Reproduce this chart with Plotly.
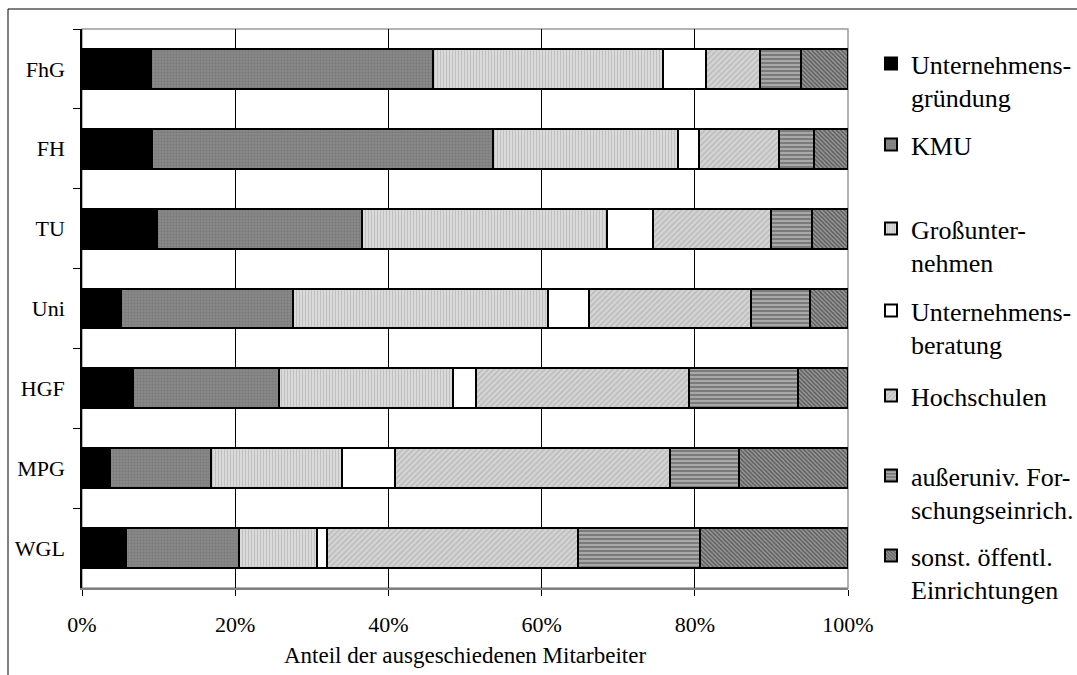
import plotly.graph_objects as go

# ---- data ----
categories = ["FhG", "FH", "TU", "Uni", "HGF", "MPG", "WGL"]
series_names = [
    "Unternehmens-<br>gründung",
    "KMU",
    "Großunter-<br>nehmen",
    "Unternehmens-<br>beratung",
    "Hochschulen",
    "außeruniv. For-<br>schungseinrich.",
    "sonst. öffentl.<br>Einrichtungen",
]
gruendung = [9.0, 9.2, 9.8, 5.1, 6.7, 3.7, 5.8]
kmu = [36.8, 44.4, 26.8, 22.5, 19.0, 13.1, 14.7]
gross = [30.0, 24.2, 32.0, 33.2, 22.7, 17.2, 10.2]
beratung = [5.6, 2.7, 6.0, 5.4, 3.1, 6.9, 1.3]
hochschulen = [7.1, 10.5, 15.4, 21.2, 27.7, 35.8, 32.7]
ausseruniv = [5.3, 4.5, 5.3, 7.6, 14.3, 9.1, 16.0]
sonst = [6.2, 4.5, 4.7, 5.0, 6.5, 14.2, 19.3]
tick_vals = [0, 20, 40, 60, 80, 100]
tick_text = ["0%", "20%", "40%", "60%", "80%", "100%"]
grid_vals = [20, 40, 60, 80]
x_title = "Anteil der ausgeschiedenen Mitarbeiter"

series_values = [gruendung, kmu, gross, beratung, hochschulen, ausseruniv, sonst]

# ---- styles ----
patterns = [
    dict(shape="", bgcolor="#000000", fgcolor="#000000"),
    dict(shape=".", bgcolor="#8c8c8c", fgcolor="#6a6a6a", size=3, solidity=0.5),
    dict(shape="|", bgcolor="#dcdcdc", fgcolor="#a4a4a4", size=3, solidity=0.4),
    dict(shape="", bgcolor="#ffffff", fgcolor="#ffffff"),
    dict(shape="/", bgcolor="#d4d4d4", fgcolor="#9c9c9c", size=4, solidity=0.35),
    dict(shape="-", bgcolor="#a8a8a8", fgcolor="#454545", size=4, solidity=0.45),
    dict(shape="\\", bgcolor="#9a9a9a", fgcolor="#1e1e1e", size=3, solidity=0.5),
]
base_colors = ["#000000", "#8c8c8c", "#dcdcdc", "#ffffff", "#d4d4d4", "#a8a8a8", "#5a5a5a"]

FONT = "Liberation Serif"
W, H = 1077, 675
ML, MR, MT, MB = 82, 229, 29, 87
PW = W - ML - MR
PH = H - MT - MB


def px_x(p):
    return (p - ML) / PW


def px_y(p):
    return 1 - (p - MT) / PH


fig = go.Figure()
legend_ids = ["legend", "legend2", "legend3", "legend4", "legend5", "legend6", "legend7"]
for i, (name, vals) in enumerate(zip(series_names, series_values)):
    fig.add_trace(go.Bar(
        y=categories,
        x=vals,
        name=name,
        orientation="h",
        marker=dict(color=base_colors[i], pattern=patterns[i],
                    line=dict(color="#000000", width=2)),
        legend=legend_ids[i],
        hoverinfo="skip",
    ))

# legend placement (first-line centres in px)
legend_line_centres = [65, 146, 230, 312, 397, 477, 557]
legend_x = px_x(871)
layout_legends = {}
for lid, yc in zip(legend_ids, legend_line_centres):
    layout_legends[lid] = dict(
        x=legend_x, xanchor="left", xref="paper",
        y=px_y(yc - 25), yanchor="top", yref="paper",
        valign="top", bgcolor="rgba(0,0,0,0)",
        font=dict(family=FONT, size=26, color="black"),
        itemwidth=30, tracegroupgap=0,
    )

fig.update_layout(
    width=W, height=H,
    margin=dict(l=ML, r=MR, t=MT, b=MB, autoexpand=False),
    paper_bgcolor="white", plot_bgcolor="white",
    barmode="stack", bargap=0.5,
    font=dict(family=FONT, size=22, color="black"),
    showlegend=True,
    **layout_legends,
)

fig.update_xaxes(
    range=[0, 100], tickvals=tick_vals, ticktext=tick_text,
    showgrid=False,
    minor=dict(tickmode="array", tickvals=grid_vals, showgrid=True,
               gridcolor="#000000", gridwidth=1, ticks=""),
    showline=True, linecolor="#808080", linewidth=2,
    ticks="outside", ticklen=6, tickcolor="#000000", tickwidth=1,
    ticklabelstandoff=10,
    title=dict(text=x_title, font=dict(family=FONT, size=23), standoff=10),
    zeroline=False, fixedrange=True,
)
fig.update_yaxes(
    categoryorder="array", categoryarray=categories, autorange="reversed",
    showline=True, linecolor="#000000", linewidth=1.5,
    ticks="outside", ticklen=7, tickcolor="#000000", tickson="boundaries",
    ticklabelstandoff=11,
    showgrid=False, zeroline=False, fixedrange=True,
)

# plot area border (grey) and outer frame
fig.add_shape(type="rect", xref="paper", yref="paper", x0=0, x1=1, y0=0, y1=1,
              line=dict(color="#9a9a9a", width=1.5), layer="below")
fig.add_shape(type="rect", xref="paper", yref="paper",
              x0=px_x(8), x1=px_x(1090), y0=px_y(690), y1=px_y(9),
              line=dict(color="#000000", width=1), layer="below")

fig.write_html("out.html")
